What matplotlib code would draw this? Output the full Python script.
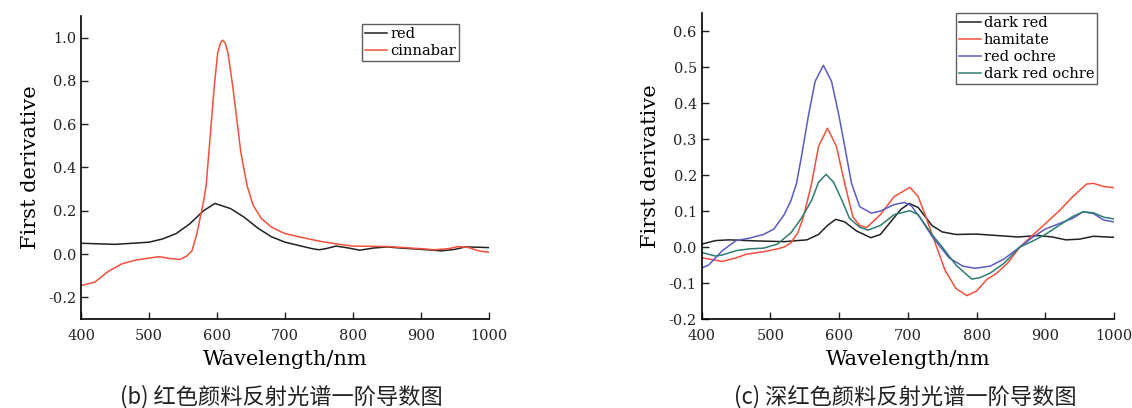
import matplotlib.pyplot as plt

plt.rcParams['font.family'] = ['DejaVu Serif']

# (b) red pigments
wl_red = [400, 450, 500, 520, 540, 560, 580, 597, 620, 640, 660, 680, 700, 720, 740, 750,
          760, 775, 790, 810, 830, 850, 870, 900, 930, 950, 965, 980, 1000]
red = [0.05, 0.045, 0.055, 0.07, 0.095, 0.14, 0.2, 0.234, 0.21, 0.17, 0.12, 0.08, 0.055,
       0.04, 0.025, 0.02, 0.025, 0.037, 0.03, 0.018, 0.028, 0.033, 0.028, 0.022, 0.015,
       0.022, 0.033, 0.032, 0.03]

wl_cin = [400, 420, 440, 460, 480, 500, 515, 530, 545, 555, 563, 570, 575, 580, 584, 588,
          592, 596, 601, 605, 608, 612, 616, 623, 629, 635, 644, 653, 665, 680, 692, 700,
          720, 750, 780, 800, 850, 900, 920, 940, 955, 970, 985, 1000]
cinnabar = [-0.145, -0.13, -0.08, -0.045, -0.028, -0.018, -0.012, -0.02, -0.025, -0.01,
            0.014, 0.09, 0.165, 0.24, 0.318, 0.47, 0.624, 0.777, 0.93, 0.975, 0.988, 0.975,
            0.93, 0.777, 0.624, 0.47, 0.318, 0.226, 0.165, 0.125, 0.106, 0.095, 0.08, 0.06,
            0.045, 0.037, 0.035, 0.025, 0.02, 0.025, 0.035, 0.03, 0.015, 0.008]

# (c) dark red pigments
wl_dr = [400, 420, 440, 480, 520, 553, 570, 583, 595, 608, 625, 646, 660, 675, 690, 702,
         715, 735, 750, 770, 800, 830, 860, 890, 910, 930, 950, 970, 1000]
dark_red = [0.008, 0.018, 0.02, 0.017, 0.015, 0.02, 0.035, 0.06, 0.077, 0.07, 0.045, 0.026,
            0.035, 0.07, 0.105, 0.121, 0.11, 0.06, 0.042, 0.035, 0.036, 0.032, 0.028,
            0.032, 0.028, 0.02, 0.022, 0.03, 0.027]

wl_ham = [400, 410, 430, 450, 465, 490, 510, 520, 530, 540, 548, 560, 570, 583, 596, 608,
          620, 630, 640, 660, 680, 703, 715, 725, 740, 754, 770, 786, 800, 815, 829, 845,
          863, 880, 900, 920, 940, 960, 970, 985, 1000]
hamitate = [-0.03, -0.033, -0.04, -0.03, -0.02, -0.013, -0.005, 0.0, 0.012, 0.04, 0.084,
            0.177, 0.28, 0.33, 0.28, 0.177, 0.084, 0.06, 0.054, 0.09, 0.14, 0.166, 0.14,
            0.09, 0.01, -0.064, -0.115, -0.135, -0.122, -0.09, -0.073, -0.045, 0.0, 0.03,
            0.065, 0.1, 0.14, 0.175, 0.177, 0.168, 0.165]

wl_ro = [400, 410, 430, 450, 470, 490, 505, 520, 530, 538, 545, 555, 565, 577, 589, 600,
         610, 618, 630, 647, 660, 680, 695, 705, 720, 735, 760, 780, 798, 820, 840, 863,
         880, 900, 920, 940, 955, 970, 985, 1000]
red_ochre = [-0.058, -0.05, -0.01, 0.018, 0.025, 0.035, 0.05, 0.09, 0.13, 0.177, 0.25,
             0.362, 0.46, 0.505, 0.46, 0.362, 0.26, 0.177, 0.112, 0.094, 0.1, 0.118, 0.124,
             0.115, 0.075, 0.03, -0.03, -0.053, -0.059, -0.053, -0.033, 0.0, 0.025, 0.05,
             0.065, 0.08, 0.098, 0.093, 0.075, 0.07]

wl_dro = [400, 420, 430, 450, 470, 490, 510, 530, 545, 560, 570, 581, 592, 604, 615, 630,
          642, 660, 680, 703, 715, 735, 750, 770, 793, 805, 820, 840, 863, 880, 900, 920,
          940, 955, 970, 985, 1000]
dark_red_ochre = [-0.015, -0.025, -0.022, -0.01, -0.005, -0.003, 0.008, 0.04, 0.08, 0.13,
                  0.18, 0.202, 0.18, 0.13, 0.08, 0.055, 0.047, 0.06, 0.09, 0.101, 0.09,
                  0.035, 0.0, -0.05, -0.089, -0.085, -0.072, -0.045, 0.0, 0.015, 0.035,
                  0.06, 0.085, 0.098, 0.095, 0.083, 0.078]

BLACK = '#222222'
RED = '#f4503c'
BLUE = '#5b5bc4'
TEAL = '#2f7c70'

fig = plt.figure(figsize=(11.32, 4.08), dpi=100)
ax1 = fig.add_axes([0.0716, 0.218, 0.3604, 0.743])
ax2 = fig.add_axes([0.6199, 0.218, 0.3642, 0.75])


def style_axes(ax, ylim, yticks):
    for side in ('top', 'right'):
        ax.spines[side].set_visible(False)
    for side in ('left', 'bottom'):
        ax.spines[side].set_linewidth(1.2)
    ax.set_xlim(400, 1000)
    ax.set_ylim(*ylim)
    ax.set_xticks(range(400, 1001, 100))
    ax.set_yticks(yticks)
    ax.set_yticklabels([f'{t:.1f}' for t in yticks])
    ax.tick_params(direction='in', length=5, width=1, labelsize=10.5, colors='#222222')
    ax.tick_params(axis='x', pad=7)
    ax.set_xlabel('Wavelength/nm', fontsize=15, labelpad=5)
    ax.set_ylabel('First derivative', fontsize=15, labelpad=6)


leg_kw = dict(fontsize=10.5, frameon=True, fancybox=False, edgecolor='#333333',
              borderpad=0.2, handlelength=1.5, handletextpad=0.2, labelspacing=0.2,
              borderaxespad=0)

ax1.plot(wl_red, red, color=BLACK, lw=1.1, label='red')
ax1.plot(wl_cin, cinnabar, color=RED, lw=1.1, label='cinnabar')
style_axes(ax1, (-0.3, 1.1), [-0.2, 0.0, 0.2, 0.4, 0.6, 0.8, 1.0])
ax1.legend(loc='upper right', bbox_to_anchor=(0.926, 0.974), **leg_kw)

ax2.plot(wl_dr, dark_red, color=BLACK, lw=1.1, label='dark red')
ax2.plot(wl_ham, hamitate, color=RED, lw=1.1, label='hamitate')
ax2.plot(wl_ro, red_ochre, color=BLUE, lw=1.1, label='red ochre')
ax2.plot(wl_dro, dark_red_ochre, color=TEAL, lw=1.1, label='dark red ochre')
style_axes(ax2, (-0.2, 0.65), [-0.2, -0.1, 0.0, 0.1, 0.2, 0.3, 0.4, 0.5, 0.6])
ax2.legend(loc='upper right', bbox_to_anchor=(0.959, 1.0), **leg_kw)

cap_font = ['Noto Sans CJK SC', 'DejaVu Serif']
fig.text(0.249, 0.012, '(b) 红色颜料反射光谱一阶导数图', ha='center', fontsize=16,
         family=cap_font, color='#222222')
fig.text(0.80, 0.012, '(c) 深红色颜料反射光谱一阶导数图', ha='center', fontsize=16,
         family=cap_font, color='#222222')

fig.savefig('out.png', dpi=100)
